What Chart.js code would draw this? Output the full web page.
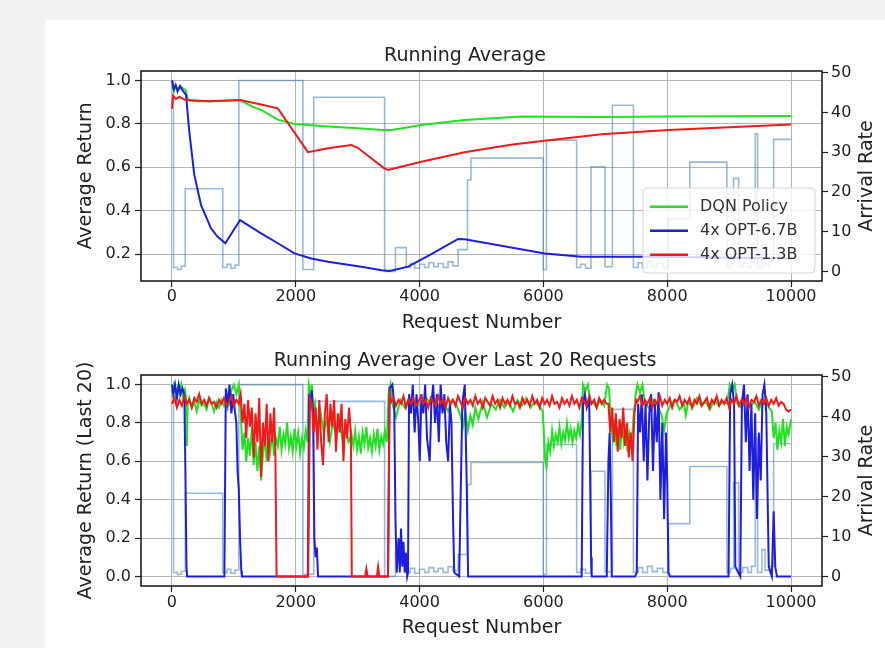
<!DOCTYPE html>
<html>
<head>
<meta charset="utf-8">
<script src="https://cdn.jsdelivr.net/npm/chart.js@4.4.1/dist/chart.umd.min.js"></script>
<style>
  body { margin: 0; width: 885px; height: 648px; overflow: hidden; background: #f2f2f2; }
  #panel { position: absolute; left: 45px; top: 20px; width: 840px; height: 628px; background: #fff; }
  #topChart { position: absolute; left: 45px; top: 20px; width: 840px; height: 315px; }
  #bottomChart { position: absolute; left: 45px; top: 335px; width: 840px; height: 313px; }
</style>
</head>
<body>
<div id="panel"></div>
<canvas id="topChart" width="840" height="315"></canvas>
<canvas id="bottomChart" width="840" height="313"></canvas>
<script>
// ---- data (request number, value) ----
const xTicks = [0, 2000, 4000, 6000, 8000, 10000];
const runningTicks = [0.2, 0.4, 0.6, 0.8, 1.0];
const last20Ticks = [0.0, 0.2, 0.4, 0.6, 0.8, 1.0];
const arrivalTicks = [0, 10, 20, 30, 40, 50];
const seriesNames = ['DQN Policy', '4x OPT-6.7B', '4x OPT-1.3B'];

// arrival rate, value holds until the next change point
const arrivalRate = [
  [0, 48], [25, 1], [90, 0.5], [150, 1.3], [215, 20.8], [820, 1], [890, 1.8], [950, 0.8], [1020, 1.6],
  [1080, 48], [2115, 0.5], [2290, 43.8], [3435, 0], [3610, 6], [3786, 1], [3850, 2], [3920, 0.8],
  [4000, 1.8], [4080, 1], [4150, 2.2], [4230, 1.2], [4300, 2], [4380, 1], [4460, 2.4], [4540, 1.4],
  [4622, 5.5], [4773, 23], [4830, 28.5], [5997, 0.5], [6050, 33], [6537, 1], [6600, 1.8], [6680, 0.8],
  [6768, 26.3], [6995, 1.2], [7114, 41.8], [7454, 1], [7530, 2.2], [7600, 1], [7680, 2.5], [7760, 1.2],
  [7840, 2], [7930, 1], [8020, 13.2], [8365, 27.5], [8964, 1], [9020, 2], [9072, 23.4], [9153, 1],
  [9220, 2.2], [9300, 1], [9360, 2.5], [9422, 34.6], [9460, 1], [9530, 6.7], [9580, 1.5], [9650, 2.5],
  [9719, 33.2], [10000, 33.2]
];

// running average
const dqnRunning = [
  [0, 0.98], [30, 0.95], [60, 0.975], [100, 0.96], [150, 0.97], [220, 0.955], [260, 0.91], [400, 0.905],
  [700, 0.905], [1100, 0.91], [1300, 0.88], [1440, 0.865], [1710, 0.82], [1980, 0.8], [2520, 0.788],
  [3000, 0.78], [3400, 0.772], [3550, 0.772], [4029, 0.795], [4725, 0.818], [5647, 0.834], [6941, 0.832],
  [8000, 0.834], [10000, 0.836]
];
const opt67Running = [
  [0, 1.0], [30, 0.96], [60, 0.98], [90, 0.95], [130, 0.975], [170, 0.955], [227, 0.934], [280, 0.765],
  [361, 0.565], [470, 0.426], [631, 0.319], [738, 0.28], [862, 0.25], [1100, 0.357], [1440, 0.296],
  [1710, 0.25], [1979, 0.203], [2249, 0.18], [2520, 0.165], [3058, 0.142], [3386, 0.126], [3516, 0.122],
  [3814, 0.142], [4190, 0.2], [4622, 0.27], [4730, 0.268], [6024, 0.203], [6618, 0.188], [7588, 0.188],
  [8500, 0.185], [10000, 0.18]
];
const opt13Running = [
  [0, 0.87], [20, 0.93], [60, 0.915], [120, 0.925], [220, 0.91], [600, 0.905], [1100, 0.91], [1440, 0.89],
  [1710, 0.872], [2196, 0.67], [2520, 0.688], [2896, 0.703], [3000, 0.69], [3430, 0.595], [3490, 0.588],
  [4029, 0.626], [4725, 0.669], [5500, 0.705], [6019, 0.722], [6941, 0.752], [8020, 0.772], [9000, 0.785],
  [10000, 0.797]
];

// running average over last 20 requests
const dqnLast20 = [
  [0, 0.96], [30, 1.0], [60, 0.94], [90, 0.98], [120, 0.95], [150, 1.0], [180, 0.93], [210, 0.97], [230, 0.92],
  [240, 0.68], [255, 0.9], [280, 0.93], [320, 0.88], [360, 0.91], [400, 0.86], [440, 0.92], [480, 0.89],
  [520, 0.9], [560, 0.87], [600, 0.93], [640, 0.9], [680, 0.86], [720, 0.91], [760, 0.88], [800, 0.92],
  [840, 0.89], [880, 0.93], [920, 0.9], [960, 0.97], [1000, 1.0], [1040, 0.95], [1080, 1.0], [1110, 0.85],
  [1140, 0.66], [1170, 0.75], [1200, 0.6], [1230, 0.72], [1260, 0.63], [1290, 0.78], [1320, 0.58], [1350, 0.7],
  [1380, 0.55], [1410, 0.68], [1440, 0.5], [1470, 0.64], [1500, 0.72], [1530, 0.6], [1560, 0.76], [1590, 0.66],
  [1620, 0.74], [1650, 0.63], [1680, 0.72], [1710, 0.68], [1740, 0.78], [1770, 0.66], [1800, 0.74], [1830, 0.69],
  [1860, 0.8], [1890, 0.67], [1920, 0.73], [1950, 0.65], [1980, 0.77], [2010, 0.68], [2040, 0.75], [2070, 0.64],
  [2100, 0.72], [2130, 0.67], [2160, 0.76], [2190, 0.7], [2210, 1.0], [2240, 0.95], [2260, 1.0], [2280, 0.85],
  [2310, 0.9], [2350, 0.78], [2400, 0.86], [2450, 0.75], [2500, 0.82], [2550, 0.7], [2600, 0.8], [2650, 0.74],
  [2700, 0.83], [2750, 0.72], [2800, 0.78], [2850, 0.7], [2900, 0.74], [2930, 0.68], [2960, 0.76], [2990, 0.66],
  [3020, 0.73], [3050, 0.64], [3080, 0.75], [3110, 0.69], [3140, 0.78], [3170, 0.67], [3200, 0.72], [3230, 0.65],
  [3260, 0.74], [3290, 0.68], [3320, 0.77], [3350, 0.66], [3380, 0.73], [3410, 0.69], [3440, 0.76], [3470, 0.7],
  [3500, 0.95], [3530, 1.0], [3560, 0.9], [3620, 0.83], [3690, 0.92], [3760, 0.88], [3830, 0.93], [3900, 0.89],
  [3970, 0.91], [4040, 0.87], [4110, 0.93], [4180, 0.9], [4250, 0.92], [4320, 0.88], [4390, 0.91], [4460, 0.86],
  [4530, 0.92], [4600, 0.89], [4660, 0.84], [4700, 0.78], [4740, 0.86], [4780, 0.76], [4820, 0.84], [4860, 0.79],
  [4900, 0.88], [4950, 0.82], [5020, 0.91], [5090, 0.83], [5160, 0.9], [5230, 0.87], [5300, 0.92], [5370, 0.88],
  [5440, 0.91], [5510, 0.86], [5580, 0.92], [5650, 0.89], [5720, 0.93], [5790, 0.88], [5860, 0.91], [5930, 0.89],
  [5990, 0.86], [6030, 0.6], [6050, 0.57], [6080, 0.7], [6110, 0.65], [6140, 0.76], [6170, 0.68], [6200, 0.74],
  [6230, 0.7], [6260, 0.78], [6290, 0.69], [6320, 0.75], [6350, 0.71], [6380, 0.8], [6410, 0.72], [6440, 0.77],
  [6470, 0.7], [6500, 0.76], [6530, 0.72], [6560, 0.79], [6590, 0.74], [6620, 0.82], [6640, 1.0], [6680, 0.97],
  [6720, 1.0], [6760, 0.9], [6800, 0.91], [6860, 0.88], [6920, 0.92], [6980, 0.89], [7030, 1.0], [7060, 0.98],
  [7090, 0.8], [7120, 0.72], [7150, 0.82], [7180, 0.68], [7210, 0.78], [7240, 0.66], [7270, 0.8], [7300, 0.7],
  [7330, 0.76], [7360, 0.65], [7390, 0.74], [7420, 0.68], [7450, 0.8], [7490, 0.95], [7520, 1.0], [7560, 0.96],
  [7600, 1.0], [7640, 0.9], [7700, 0.88], [7770, 0.92], [7840, 0.89], [7910, 0.84], [7950, 0.76], [7990, 0.85],
  [8060, 0.9], [8130, 0.92], [8200, 0.87], [8270, 0.9], [8300, 0.84], [8340, 0.91], [8410, 0.88], [8480, 0.93],
  [8550, 0.89], [8620, 0.91], [8690, 0.87], [8760, 0.92], [8830, 0.89], [8900, 0.91], [8970, 0.9], [9010, 1.0],
  [9050, 0.97], [9090, 1.0], [9130, 0.9], [9200, 0.88], [9270, 0.92], [9340, 0.89], [9410, 0.91], [9480, 0.87],
  [9550, 0.92], [9620, 0.89], [9690, 0.86], [9720, 0.72], [9750, 0.8], [9780, 0.66], [9810, 0.76], [9840, 0.7],
  [9870, 0.82], [9900, 0.68], [9930, 0.78], [9960, 0.74], [10000, 0.82]
];
const opt67Last20 = [
  [0, 1.0], [20, 0.95], [50, 1.0], [80, 0.93], [110, 1.0], [140, 0.95], [170, 0.98], [200, 0.95], [215, 0.6],
  [235, 0.05], [245, 0], [847, 0], [870, 0.98], [900, 0.9], [930, 1.0], [960, 0.85], [990, 0.95], [1010, 0.88],
  [1040, 0.8], [1060, 0.55], [1080, 0.45], [1100, 0.2], [1120, 0.03], [1130, 0], [2195, 0], [2215, 0.95],
  [2240, 0.9], [2260, 0.97], [2280, 0.85], [2300, 0.2], [2320, 0.1], [2340, 0.15], [2360, 0], [3490, 0],
  [3515, 0.98], [3560, 1.0], [3590, 0.9], [3610, 0.3], [3630, 0.02], [3660, 0.2], [3680, 0.02], [3700, 0.25],
  [3720, 0.05], [3740, 0.18], [3760, 0.02], [3780, 0.12], [3800, 0], [3813, 0.02], [3830, 0.95], [3860, 0.85],
  [3890, 1.0], [3920, 0.75], [3950, 0.95], [3980, 0.8], [4003, 0.6], [4030, 0.95], [4060, 0.85], [4090, 1.0],
  [4120, 0.72], [4164, 0.6], [4190, 0.9], [4220, 1.0], [4250, 0.8], [4280, 0.95], [4310, 0.7], [4340, 1.0],
  [4370, 0.85], [4400, 0.95], [4430, 0.7], [4461, 0.6], [4490, 0.9], [4515, 0.8], [4540, 0.3], [4560, 0.02],
  [4640, 0], [4690, 0.9], [4730, 1.0], [4760, 0.5], [4784, 0], [6618, 0], [6640, 0.9], [6670, 0.95],
  [6700, 0.88], [6740, 0.92], [6770, 0.1], [6780, 0], [7023, 0], [7050, 0.6], [7070, 0.75], [7090, 0.4],
  [7104, 0], [7481, 0], [7508, 0.02], [7530, 0.9], [7560, 0.75], [7590, 0.95], [7620, 0.6], [7650, 0.9],
  [7680, 0.5], [7710, 0.85], [7740, 0.95], [7770, 0.55], [7800, 0.9], [7830, 0.7], [7860, 0.96], [7890, 0.4],
  [7920, 0.8], [7950, 0.3], [7980, 0.75], [8000, 0.5], [8020, 0.02], [8047, 0], [8990, 0], [9017, 0.95],
  [9050, 1.0], [9080, 0.9], [9100, 0.05], [9180, 0], [9206, 0.9], [9240, 1.0], [9270, 0.7], [9300, 0.95],
  [9330, 0.55], [9360, 0.9], [9390, 0.4], [9420, 0.85], [9450, 0.3], [9480, 0.75], [9510, 0.5], [9540, 0.95],
  [9570, 1.0], [9600, 0.85], [9640, 0.05], [9690, 0], [9719, 0.34], [9745, 0.05], [9773, 0], [10000, 0]
];
const opt13Last20 = [
  [0, 0.9], [40, 0.93], [80, 0.88], [120, 0.92], [160, 0.89], [200, 0.94], [240, 0.9], [280, 0.92], [320, 0.88],
  [360, 0.93], [400, 0.91], [440, 0.95], [480, 0.9], [520, 0.92], [560, 0.89], [600, 0.93], [640, 0.9],
  [680, 0.91], [720, 0.88], [760, 0.92], [800, 0.9], [840, 0.93], [880, 0.89], [920, 0.91], [960, 0.94],
  [1000, 0.89], [1040, 0.92], [1080, 0.9], [1110, 0.95], [1140, 0.8], [1170, 0.9], [1200, 0.72], [1230, 0.92],
  [1260, 0.78], [1290, 0.88], [1320, 0.62], [1350, 0.85], [1380, 0.7], [1410, 0.93], [1440, 0.52], [1470, 0.8],
  [1500, 0.68], [1530, 0.9], [1560, 0.6], [1590, 0.85], [1620, 0.7], [1650, 0.88], [1670, 0.65], [1690, 0],
  [2200, 0], [2230, 0.93], [2260, 0.9], [2290, 0.75], [2320, 0.88], [2350, 0.66], [2380, 0.92], [2410, 0.7],
  [2440, 0.58], [2470, 0.85], [2500, 0.95], [2530, 0.7], [2560, 0.9], [2590, 0.78], [2620, 0.92], [2650, 0.65],
  [2680, 0.85], [2710, 0.75], [2740, 0.9], [2770, 0.6], [2800, 0.82], [2830, 0.72], [2860, 0.88], [2890, 0.75],
  [2905, 0], [3120, 0], [3140, 0.04], [3160, 0], [3310, 0], [3330, 0.05], [3350, 0], [3490, 0], [3515, 0.95],
  [3540, 0.91], [3580, 0.93], [3620, 0.89], [3660, 0.92], [3700, 0.9], [3740, 0.94], [3780, 0.88], [3820, 0.92],
  [3860, 0.9], [3900, 0.93], [3940, 0.89], [3980, 0.91], [4020, 0.94], [4060, 0.9], [4100, 0.92], [4140, 0.88],
  [4180, 0.93], [4220, 0.91], [4260, 0.89], [4300, 0.94], [4340, 0.9], [4380, 0.92], [4420, 0.88], [4460, 0.93],
  [4500, 0.9], [4540, 0.92], [4580, 0.89], [4620, 0.94], [4660, 0.91], [4700, 0.88], [4740, 0.93], [4780, 0.9],
  [4820, 0.92], [4860, 0.89], [4900, 0.94], [4940, 0.9], [4980, 0.92], [5020, 0.88], [5060, 0.93], [5100, 0.91],
  [5140, 0.89], [5180, 0.94], [5220, 0.9], [5260, 0.92], [5300, 0.88], [5340, 0.93], [5380, 0.9], [5420, 0.92],
  [5460, 0.89], [5500, 0.94], [5540, 0.9], [5580, 0.91], [5620, 0.88], [5660, 0.93], [5700, 0.9], [5740, 0.92],
  [5780, 0.89], [5820, 0.94], [5860, 0.9], [5900, 0.92], [5940, 0.88], [5980, 0.93], [6020, 0.9], [6060, 0.92],
  [6100, 0.89], [6140, 0.94], [6180, 0.9], [6220, 0.91], [6260, 0.88], [6300, 0.93], [6340, 0.9], [6380, 0.92],
  [6420, 0.89], [6460, 0.94], [6500, 0.9], [6540, 0.92], [6580, 0.88], [6620, 0.93], [6660, 0.91], [6700, 0.89],
  [6740, 0.94], [6780, 0.9], [6820, 0.92], [6860, 0.88], [6900, 0.93], [6940, 0.9], [6980, 0.92], [7020, 0.9],
  [7050, 0.9], [7080, 0.75], [7110, 0.88], [7140, 0.7], [7170, 0.85], [7200, 0.65], [7230, 0.82], [7260, 0.72],
  [7290, 0.88], [7320, 0.68], [7350, 0.8], [7380, 0.62], [7410, 0.75], [7440, 0.6], [7470, 0.85], [7500, 0.92],
  [7520, 0.91], [7560, 0.94], [7600, 0.89], [7640, 0.92], [7680, 0.9], [7720, 0.93], [7760, 0.88], [7800, 0.92],
  [7840, 0.9], [7880, 0.94], [7920, 0.89], [7960, 0.92], [8000, 0.9], [8040, 0.93], [8080, 0.88], [8120, 0.92],
  [8160, 0.91], [8200, 0.94], [8240, 0.89], [8280, 0.92], [8320, 0.9], [8360, 0.93], [8400, 0.88], [8440, 0.92],
  [8480, 0.9], [8520, 0.94], [8560, 0.89], [8600, 0.91], [8640, 0.93], [8680, 0.88], [8720, 0.92], [8760, 0.9],
  [8800, 0.94], [8840, 0.89], [8880, 0.92], [8920, 0.9], [8960, 0.93], [9000, 0.88], [9040, 0.92], [9080, 0.9],
  [9120, 0.94], [9160, 0.89], [9200, 0.92], [9240, 0.9], [9280, 0.93], [9320, 0.88], [9360, 0.92], [9400, 0.91],
  [9440, 0.94], [9480, 0.89], [9520, 0.92], [9560, 0.9], [9600, 0.93], [9640, 0.89], [9680, 0.92], [9720, 0.9],
  [9760, 0.93], [9800, 0.89], [9840, 0.91], [9880, 0.9], [9920, 0.87], [9960, 0.86], [10000, 0.87]
];

// ---- styling ----
const seriesColors = ['#22e022', '#1e1ee0', '#f01a1a'];
const arrivalColor = 'rgba(70, 130, 180, 0.55)';
const gridColor = '#b4b4b4';
const inkColor = '#222';

Chart.defaults.font.family = '"DejaVu Sans", sans-serif';
Chart.defaults.color = inkColor;

const toPoints = arr => arr.map(([x, y]) => ({ x, y }));

function makeDatasets(dqn, opt67, opt13, width) {
  const lines = [dqn, opt67, opt13].map((d, i) => ({
    label: seriesNames[i],
    data: toPoints(d),
    borderColor: seriesColors[i],
    borderWidth: width,
    yAxisID: 'y',
    order: 3 - i,
  }));
  lines.push({
    label: 'Arrival Rate',
    data: toPoints(arrivalRate),
    borderColor: arrivalColor,
    borderWidth: 1.6,
    stepped: true,
    yAxisID: 'y2',
    order: 4,
  });
  return lines;
}

function drawLegend(chart, box) {
  const ctx = chart.ctx;
  const items = chart.data.datasets.filter(d => d.yAxisID === 'y');
  ctx.save();
  ctx.beginPath();
  ctx.roundRect(box.x, box.y, box.w, box.h, 4);
  ctx.fillStyle = 'rgba(255,255,255,0.8)';
  ctx.fill();
  ctx.strokeStyle = '#d4d4d4';
  ctx.lineWidth = 1;
  ctx.stroke();
  ctx.font = '16px "DejaVu Sans"';
  ctx.textBaseline = 'middle';
  items.forEach((d, i) => {
    const y = box.y + box.first + i * box.gap;
    ctx.strokeStyle = d.borderColor;
    ctx.lineWidth = 2.5;
    ctx.beginPath();
    ctx.moveTo(box.x + 7, y);
    ctx.lineTo(box.x + 45, y);
    ctx.stroke();
    ctx.fillStyle = '#333';
    ctx.fillText(d.label, box.x + 57, y);
  });
  ctx.restore();
}

// axes frame, right axis label (reads bottom to top) and the in-plot legend
const framePlugin = {
  id: 'frame',
  afterDatasetsDraw(chart, args, opts) {
    const { ctx, chartArea: a } = chart;
    ctx.save();
    ctx.strokeStyle = '#111';
    ctx.lineWidth = 1.5;
    ctx.strokeRect(a.left, a.top, a.right - a.left, a.bottom - a.top);
    ctx.fillStyle = inkColor;
    ctx.font = '19px "DejaVu Sans"';
    ctx.translate(opts.rightLabelX, (a.top + a.bottom) / 2);
    ctx.rotate(-Math.PI / 2);
    ctx.textAlign = 'center';
    ctx.textBaseline = 'middle';
    ctx.fillText('Arrival Rate', 0, 0);
    ctx.restore();
    if (opts.legend) drawLegend(chart, opts.legend);
  }
};

function makeChart(id, cfg) {
  const tickGrid = { color: gridColor, lineWidth: 1, tickLength: 6, tickColor: inkColor, tickWidth: 1.2 };
  return new Chart(document.getElementById(id), {
    type: 'line',
    data: { datasets: cfg.datasets },
    options: {
      responsive: false,
      animation: false,
      events: [],
      layout: { padding: 0 },
      elements: { point: { radius: 0 }, line: { tension: 0, borderCapStyle: 'butt' } },
      plugins: {
        legend: { display: false },
        tooltip: { enabled: false },
        title: {
          display: true, text: cfg.title, color: inkColor,
          font: { size: 19, weight: 'normal' },
          padding: cfg.titlePad,
        },
        frame: { rightLabelX: 822, legend: cfg.legend },
      },
      scales: {
        x: {
          type: 'linear', min: -500, max: 10500,
          afterBuildTicks: s => { s.ticks = xTicks.map(v => ({ value: v })); },
          afterFit: s => { s.height = cfg.xHeight; },
          ticks: { font: { size: 16 }, padding: cfg.xTickPad, maxRotation: 0, autoSkip: false, callback: v => String(v) },
          grid: tickGrid,
          border: { display: false },
          title: { display: true, text: 'Request Number', font: { size: 19 }, padding: { top: 0, bottom: cfg.xTitlePad } },
        },
        y: {
          position: 'left', min: cfg.yMin, max: cfg.yMax,
          afterBuildTicks: s => { s.ticks = cfg.yTicks.map(v => ({ value: v })); },
          afterFit: s => { s.width = 96; },
          ticks: { font: { size: 16 }, padding: 4, callback: v => v.toFixed(1) },
          grid: tickGrid,
          border: { display: false },
          title: { display: true, text: cfg.yTitle, font: { size: 19 }, padding: { top: 29.6, bottom: 0 } },
        },
        y2: {
          position: 'right', min: -2.4, max: 50.4,
          afterBuildTicks: s => { s.ticks = arrivalTicks.map(v => ({ value: v })); },
          afterFit: s => { s.width = 63; },
          ticks: { font: { size: 16 }, padding: 3, callback: v => String(v) },
          grid: { drawOnChartArea: false, tickLength: 6, tickColor: inkColor, tickWidth: 1.2 },
          border: { display: false },
        },
      },
    },
    plugins: [framePlugin],
  });
}

makeChart('topChart', {
  datasets: makeDatasets(dqnRunning, opt67Running, opt13Running, 2),
  title: 'Running Average',
  titlePad: { top: 24.6, bottom: 3.6 },
  xHeight: 54, xTickPad: 0, xTitlePad: 0.6,
  yMin: 0.076, yMax: 1.044, yTicks: runningTicks,
  yTitle: 'Average Return',
  legend: { x: 598, y: 168, w: 172, h: 85, first: 18.7, gap: 24 },
});

makeChart('bottomChart', {
  datasets: makeDatasets(dqnLast20, opt67Last20, opt13Last20, 2),
  title: 'Running Average Over Last 20 Requests',
  titlePad: { top: 14.6, bottom: 2.6 },
  xHeight: 62, xTickPad: 1, xTitlePad: 8.6,
  yMin: -0.05, yMax: 1.05, yTicks: last20Ticks,
  yTitle: 'Average Return (Last 20)',
  legend: null,
});
</script>
</body>
</html>
